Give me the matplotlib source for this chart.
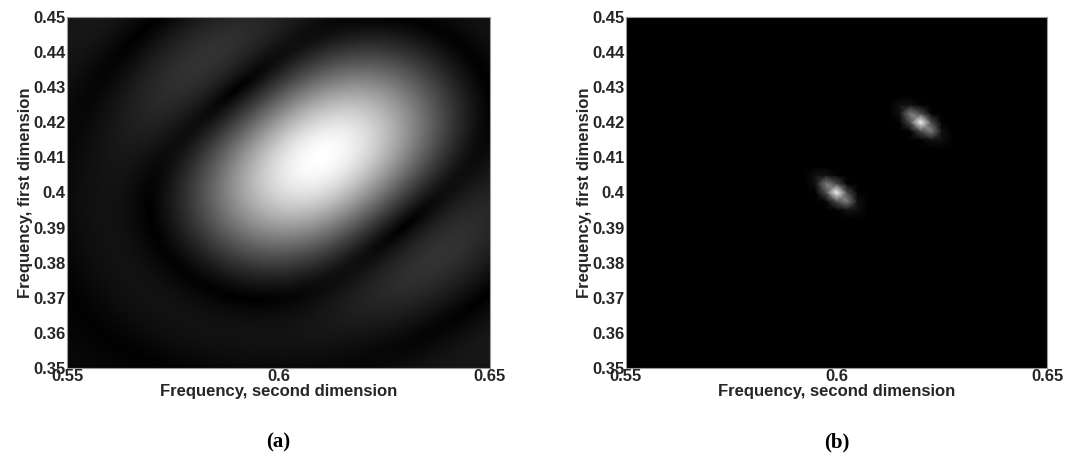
import numpy as np
import matplotlib
matplotlib.use("Agg")
import matplotlib.pyplot as plt

# --- datos: dos componentes sinusoidales 2D ---
peak_f1 = [0.40, 0.42]      # frecuencia, primera dimension
peak_f2 = [0.60, 0.62]      # frecuencia, segunda dimension
peak_amp = [1.0, 1.0]
peak_phase_deg = [0.0, 35.0]
aperture = 39.0             # diametro (en muestras) del soporte circular de los datos

f1_lim = [0.35, 0.45]
f2_lim = [0.55, 0.65]
y_ticks = [0.35, 0.36, 0.37, 0.38, 0.39, 0.40, 0.41, 0.42, 0.43, 0.44, 0.45]
y_labels = ["0.35", "0.36", "0.37", "0.38", "0.39", "0.4", "0.41", "0.42", "0.43", "0.44", "0.45"]
x_ticks = [0.55, 0.60, 0.65]
x_labels = ["0.55", "0.6", "0.65"]
panel_labels = ["(a)", "(b)"]

# resolucion de la estimacion de alta resolucion (b)
hr_step = 0.0025
hr_width = [0.0042, 0.00175]   # ancho a lo largo de la antidiagonal / diagonal


def bessel_j1(x):
    # J1(x) = 1/pi * int_0^pi cos(t - x sin t) dt
    tau = np.linspace(0, np.pi, 241)
    w = np.full(tau.size, tau[1] - tau[0])
    w[0] *= 0.5
    w[-1] *= 0.5
    acc = np.zeros_like(x)
    for t, wt in zip(tau, w):
        acc += wt * np.cos(t - x * np.sin(t))
    return acc / np.pi


def jinc(r, d):
    x = np.pi * d * r
    out = np.ones_like(x)
    nz = x > 1e-9
    out[nz] = 2 * bessel_j1(x[nz]) / x[nz]
    return out


# --- (a) periodograma ---
g1 = np.linspace(f1_lim[0], f1_lim[1], 351)
g2 = np.linspace(f2_lim[0], f2_lim[1], 423)
G2, G1 = np.meshgrid(g2, g1)
spec = np.zeros_like(G1, dtype=complex)
for a, ph, p1, p2 in zip(peak_amp, peak_phase_deg, peak_f1, peak_f2):
    r = np.hypot(G1 - p1, G2 - p2)
    spec += a * np.exp(1j * np.deg2rad(ph)) * jinc(r, aperture)
spec_a = np.abs(spec)
spec_a = spec_a / spec_a.max()

# --- (b) estimacion de alta resolucion ---
h1 = np.arange(f1_lim[0], f1_lim[1] + hr_step / 2, hr_step)
h2 = np.arange(f2_lim[0], f2_lim[1] + hr_step / 2, hr_step)
H2, H1 = np.meshgrid(h2, h1)
spec_b = np.zeros_like(H1)
for a, p1, p2 in zip(peak_amp, peak_f1, peak_f2):
    d1 = H1 - p1
    d2 = H2 - p2
    u = (d2 - d1) / np.sqrt(2)
    v = (d2 + d1) / np.sqrt(2)
    spec_b += a * np.exp(-(u / hr_width[0]) ** 2 - (v / hr_width[1]) ** 2)
spec_b = spec_b / spec_b.max()

# --- figura ---
fig = plt.figure(figsize=(10.65, 4.57), dpi=100)
ax_a = fig.add_axes([67 / 1065, 89 / 457, 423 / 1065, 351 / 457])
ax_b = fig.add_axes([626 / 1065, 89 / 457, 421 / 1065, 351 / 457])

ax_a.pcolormesh(G2, G1, spec_a, cmap="gray", shading="gouraud", vmin=0, vmax=1)
ax_b.pcolormesh(H2, H1, spec_b, cmap="gray", shading="gouraud", vmin=0, vmax=1)

tick_font = dict(family="Liberation Sans", weight="bold", size=12)
for ax, lab in zip([ax_a, ax_b], panel_labels):
    ax.set_xlim(f2_lim)
    ax.set_ylim(f1_lim)
    ax.set_xticks(x_ticks)
    ax.set_xticklabels(x_labels, fontdict=tick_font)
    ax.set_yticks(y_ticks)
    ax.set_yticklabels(y_labels, fontdict=tick_font)
    ax.tick_params(length=0, pad=1, colors="#262626")
    ax.set_xlabel("Frequency, second dimension", fontdict=tick_font, labelpad=0, color="#262626")
    ax.set_ylabel("Frequency, first dimension", fontdict=tick_font, labelpad=0, color="#262626")
    for s in ax.spines.values():
        s.set_color("#9a9a9a")
        s.set_linewidth(0.8)
    ax.text(0.5, -0.211, lab, transform=ax.transAxes, ha="center", va="center",
            family="Liberation Serif", weight="bold", fontsize=15)

fig.savefig("out.png", dpi=100)
